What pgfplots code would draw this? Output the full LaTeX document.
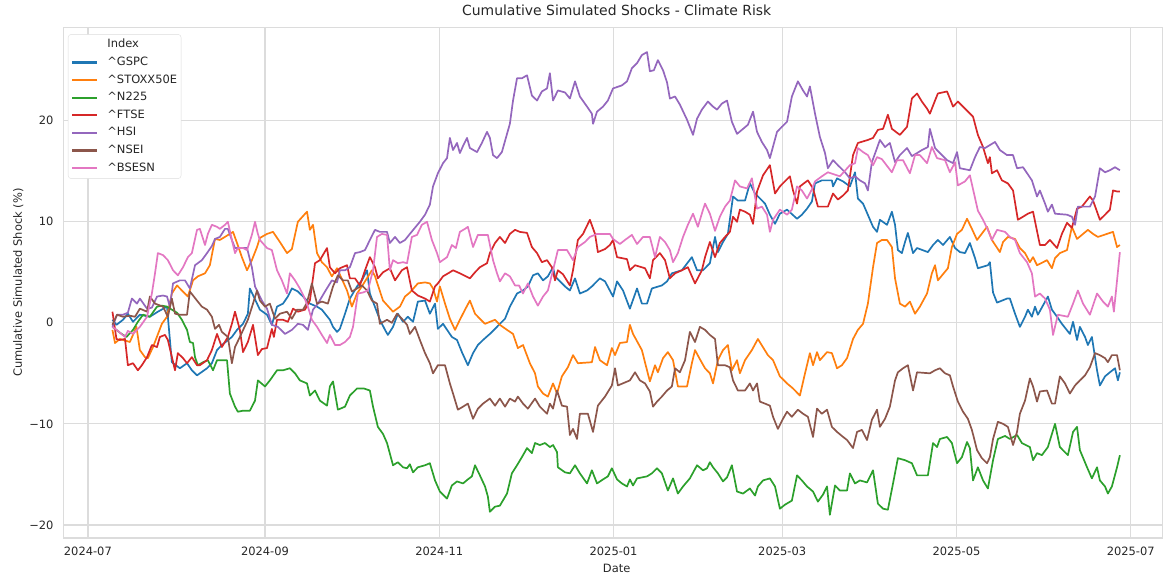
\documentclass[border=0pt]{standalone}
\usepackage{fontspec}
\setmainfont{DejaVu Sans}
\usepackage{pgfplots}
\pgfplotsset{compat=1.18}
\definecolor{cGSPC}{HTML}{1F77B4}
\definecolor{cSTOXX}{HTML}{FF7F0E}
\definecolor{cNKY}{HTML}{2CA02C}
\definecolor{cFTSE}{HTML}{D62728}
\definecolor{cHSI}{HTML}{9467BD}
\definecolor{cNSEI}{HTML}{8C564B}
\definecolor{cBSESN}{HTML}{E377C2}
\definecolor{gridc}{HTML}{DCDCDC}
\definecolor{txt}{HTML}{262626}
\newcommand{\lbl}{\fontsize{11.5}{13}\selectfont}

\begin{document}
\begin{tikzpicture}
\begin{axis}[
  scale only axis, width=1099.7bp, height=510.7bp,
  xmin=-8.6, xmax=376.3, ymin=-21.3, ymax=29.25,
  % x = days since 2024-07-01
  xtick={0,62,123,184,243,304,365},
  xticklabels={2024-07,2024-09,2024-11,2025-01,2025-03,2025-05,2025-07},
  ytick={-20,-10,0,10,20},
  yticklabels={−20,−10,0,10,20},
  grid=major, major grid style={draw=gridc, line width=1.3bp},
  axis line style={draw=gridc, line width=1.3bp},
  major tick length=0pt,
  tick label style={font=\lbl, text=txt},
  xticklabel style={anchor=base, yshift=-17bp},
  yticklabel style={anchor=east, xshift=-6.3bp},
  title={Cumulative Simulated Shocks - Climate Risk},
  title style={at={(0.5,1)}, anchor=base, yshift=6.3bp, xshift=3.5bp, font=\fontsize{14}{16}\selectfont, text=txt},
  xlabel={Date},
  xlabel style={at={(axis description cs:0.5,0)}, anchor=base, yshift=-34bp, xshift=3.5bp, font=\lbl, text=txt},
  ylabel={Cumulative Simulated Shock (\%)},
  ylabel style={at={(axis description cs:-0.041,0.5)}, anchor=center, font=\lbl, text=txt},
  no markers,
  every axis plot/.append style={line width=1.7bp, line join=round},
  legend cell align=left,
  legend image code/.code={\draw[#1] (0bp,0bp) -- (25bp,0bp);},
  legend style={at={(0,1)}, anchor=north west, xshift=4.7bp, yshift=-6.9bp,
    draw=gridc, fill=white, draw opacity=1, text opacity=1, rounded corners=3bp,
    font=\lbl, text=txt, inner xsep=3bp, inner ysep=4bp, row sep=4.6bp,
    /tikz/column sep=8bp,
    nodes={inner sep=1bp, text height=8.5bp, text depth=2.5bp}},
]
% legend: title row, then one line sample per index
\addlegendimage{empty legend}
\addlegendentry{Index}
\addlegendimage{draw=cGSPC, line width=2.2bp}
\addlegendentry{\textasciicircum GSPC}
\addlegendimage{draw=cSTOXX, line width=2.2bp}
\addlegendentry{\textasciicircum STOXX50E}
\addlegendimage{draw=cNKY, line width=2.2bp}
\addlegendentry{\textasciicircum N225}
\addlegendimage{draw=cFTSE, line width=2.2bp}
\addlegendentry{\textasciicircum FTSE}
\addlegendimage{draw=cHSI, line width=2.2bp}
\addlegendentry{\textasciicircum HSI}
\addlegendimage{draw=cNSEI, line width=2.2bp}
\addlegendentry{\textasciicircum NSEI}
\addlegendimage{draw=cBSESN, line width=2.2bp}
\addlegendentry{\textasciicircum BSESN}

\addplot[color=cGSPC, forget plot] coordinates {
(8.6,0.3) (10.0,-0.2) (12.3,0.3) (14.0,0.9) (15.8,0.1) (18.2,0.8) (21.7,0.6) (24.5,1.1)
(27.7,1.6) (28.0,0.6) (29.4,-3.9) (32.2,-4.5) (34.7,-4.0) (36.4,-4.7) (38.2,-5.2) (41.7,-4.5)
(43.4,-4.0) (45.2,-2.7) (46.9,-2.2) (50.4,-1.4) (52.2,-0.7) (54.3,-0.1) (56.0,0.9) (56.7,3.4)
(60.2,1.3) (62.7,0.8) (64.4,-0.2) (66.2,1.6) (68.3,1.9) (70.0,2.6) (71.4,3.4) (73.5,3.1)
(75.3,2.6) (77.7,1.9) (80.2,1.6) (81.9,1.3) (84.7,0.3) (85.8,-0.4) (87.2,-0.9) (88.2,-0.6)
(90.0,0.9) (91.7,2.4) (94.2,3.6) (95.9,4.2) (97.7,5.2) (98.7,2.9) (102.2,0.3) (104.0,-0.7)
(105.0,-1.2) (106.8,-0.4) (108.5,0.9) (110.3,0.1) (112.0,0.6) (113.8,0.1) (115.5,2.1) (118.0,2.2)
(119.7,0.9) (121.5,1.9) (122.5,-0.6) (124.3,-0.1) (127.4,-1.4) (129.2,-1.7) (130.9,-2.9) (133.0,-4.2)
(134.8,-3.0) (136.5,-2.2) (138.3,-1.7) (140.7,-1.1) (142.5,-0.6) (144.2,-0.1) (146.0,0.4) (147.7,1.6)
(150.2,2.9) (152.3,3.2) (154.0,3.6) (155.8,4.7) (157.5,4.9) (159.3,4.2) (161.0,4.6) (162.8,5.5)
(163.5,4.6) (167.0,3.6) (168.7,3.2) (170.5,4.4) (172.2,2.9) (174.7,3.2) (176.4,3.6) (179.2,4.4)
(181.0,4.1) (183.8,2.6) (185.2,4.1) (187.3,3.2) (189.7,1.4) (192.2,3.4) (193.9,1.9) (195.7,1.9)
(197.4,3.4) (200.9,3.7) (202.7,4.1) (204.4,4.9) (207.9,5.2) (211.4,6.5) (213.2,5.2) (215.3,5.2)
(217.7,5.9) (219.5,8.5) (220.5,7.0) (222.3,8.0) (224.0,8.8) (225.8,12.5) (227.5,12.1) (230.0,12.1)
(231.7,13.8) (233.5,12.8) (237.0,11.8) (238.7,10.7) (240.5,9.8) (242.2,10.8) (244.7,11.2) (248.2,10.3)
(249.9,10.7) (251.7,11.3) (253.4,12.0) (254.5,13.8) (256.9,14.1) (260.4,14.1) (260.8,13.5) (262.2,14.3)
(264.3,14.0) (266.7,13.5) (268.5,14.9) (269.5,12.3) (271.3,11.8) (274.8,9.5) (276.2,9.0) (277.2,10.2)
(279.7,9.7) (281.4,11.0) (282.5,9.7) (283.5,7.2) (284.9,6.9) (286.0,8.0) (287.0,8.9) (288.8,6.9)
(290.2,7.4) (294.0,7.0) (295.8,7.7) (297.5,8.2) (299.3,7.7) (301.7,8.5) (303.5,7.4) (305.2,7.0)
(307.0,6.9) (308.7,7.9) (310.5,6.4) (311.5,5.4) (315.0,5.7) (315.7,6.0) (316.8,3.0) (318.2,2.0)
(321.7,2.4) (322.7,2.4) (324.5,0.9) (326.2,-0.4) (328.0,0.6) (329.0,1.3) (330.4,0.6) (331.5,1.6)
(332.5,0.8) (336.0,2.6) (337.4,1.3) (339.2,0.6) (340.9,-0.1) (343.7,-1.1) (344.8,0.1) (346.2,-1.7)
(347.2,-0.4) (349.0,-1.4) (350.0,-2.2) (351.4,-1.4) (353.2,-4.7) (354.2,-6.2) (356.0,-5.3) (357.7,-4.9)
(359.5,-4.5) (360.5,-5.7) (361.2,-4.9)
};

\addplot[color=cSTOXX, forget plot] coordinates {
(8.6,-0.7) (9.5,-2.0) (11.2,-1.6) (14.7,-1.9) (17.0,-0.4) (18.2,-2.7) (20.0,-3.4) (21.0,-3.5)
(22.8,-2.4) (25.9,-0.1) (27.7,0.6) (29.4,2.9) (31.2,3.7) (32.9,3.2) (35.0,2.6) (36.8,4.2)
(38.5,4.6) (41.0,4.9) (42.7,5.7) (44.5,8.3) (46.2,8.2) (49.7,8.8) (50.8,9.0) (52.2,7.9)
(53.9,6.5) (55.7,5.2) (57.4,6.2) (59.2,7.5) (60.2,8.4) (62.7,8.8) (64.8,9.0) (67.2,8.0)
(69.7,6.9) (71.4,7.3) (73.5,10.0) (76.7,11.0) (77.7,9.2) (78.8,9.7) (80.2,6.9) (81.9,6.0)
(83.7,5.5) (85.4,4.6) (87.2,5.4) (90.7,3.2) (92.4,1.6) (94.2,2.9) (95.9,3.6) (99.4,5.2)
(100.5,4.6) (103.3,2.2) (106.8,1.1) (109.2,1.6) (111.0,2.6) (112.7,3.0) (115.5,3.9) (118.0,4.0)
(119.7,3.9) (120.8,3.4) (122.2,2.1) (123.2,3.6) (125.0,1.9) (126.7,0.4) (128.5,-0.7) (130.2,0.3)
(132.0,1.3) (133.7,2.2) (135.5,0.9) (137.2,0.4) (139.0,-0.1) (142.5,0.3) (144.2,-0.2) (146.7,-0.7)
(148.8,-1.1) (150.5,-2.5) (152.3,-2.2) (154.7,-4.0) (156.5,-5.0) (157.5,-6.3) (159.3,-7.0) (161.0,-7.3)
(162.8,-6.0) (164.2,-7.0) (165.9,-5.3) (168.0,-4.4) (169.8,-3.2) (171.5,-4.0) (176.4,-3.9) (177.5,-2.4)
(179.2,-3.7) (181.7,-4.2) (183.4,-2.5) (184.5,-3.2) (186.2,-2.0) (188.7,-1.9) (189.7,-0.2) (190.8,-1.1)
(193.9,-2.7) (195.7,-4.7) (196.7,-5.8) (198.5,-4.2) (199.5,-4.9) (201.3,-3.5) (203.0,-2.9) (204.8,-3.7)
(206.5,-6.3) (209.7,-6.3) (211.4,-4.0) (212.5,-2.7) (214.2,-3.6) (216.0,-4.5) (217.7,-5.0) (218.8,-6.0)
(220.5,-3.7) (222.3,-2.7) (224.0,-2.2) (225.4,-4.7) (227.2,-3.7) (228.2,-5.0) (230.0,-3.7) (232.4,-2.7)
(234.5,-1.6) (238.0,-3.2) (239.8,-3.7) (242.2,-5.3) (244.7,-6.0) (246.8,-6.5) (249.2,-7.2) (251.0,-5.0)
(252.7,-3.0) (253.8,-4.2) (255.2,-2.9) (256.2,-3.7) (258.7,-2.9) (260.4,-3.0) (262.2,-4.5) (263.9,-4.2)
(265.7,-3.5) (267.8,-1.6) (269.5,-0.7) (271.3,-0.1) (273.0,1.9) (274.8,5.5) (276.2,7.9) (277.9,8.2)
(279.7,8.2) (281.4,7.5) (282.5,4.4) (284.2,1.9) (286.0,1.6) (287.7,2.1) (289.5,0.9) (291.2,1.6)
(293.7,2.9) (295.4,4.9) (296.5,5.7) (297.5,4.2) (301.0,5.4) (302.4,7.5) (304.2,8.8) (305.9,9.2)
(307.7,10.3) (309.4,9.3) (311.2,8.2) (314.7,9.5) (316.4,8.2) (319.2,7.0) (320.3,8.0) (322.0,8.5)
(324.5,8.3) (326.2,7.4) (328.0,6.9) (329.7,6.0) (330.8,6.5) (332.2,5.7) (335.7,6.2) (337.4,5.4)
(338.5,6.4) (340.2,6.9) (342.7,7.2) (344.4,9.5) (346.2,8.3) (350.0,9.2) (351.8,8.8) (353.5,8.5)
(358.8,9.0) (360.2,7.5) (361.2,7.7)
};

\addplot[color=cNKY, forget plot] coordinates {
(8.6,-0.4) (11.8,-1.1) (13.5,-1.4) (15.8,-0.7) (17.5,0.1) (19.3,0.8) (21.7,0.6) (24.2,1.6)
(25.9,1.7) (27.7,1.6) (29.4,1.3) (31.2,1.0) (32.9,0.3) (34.7,-0.7) (35.7,-1.9) (36.8,-2.0)
(37.5,-3.4) (38.5,-4.2) (40.3,-3.9) (42.0,-3.7) (43.8,-4.7) (45.2,-3.7) (48.7,-3.7) (49.7,-7.0)
(51.5,-8.3) (52.5,-8.8) (54.3,-8.7) (56.7,-8.7) (58.5,-7.7) (59.5,-5.7) (62.0,-6.3) (63.7,-5.7)
(66.2,-4.7) (68.3,-4.7) (70.7,-4.5) (72.5,-5.0) (74.2,-5.7) (76.7,-6.0) (77.7,-7.2) (79.5,-6.7)
(81.2,-7.7) (83.7,-8.2) (84.7,-6.3) (85.8,-5.8) (87.5,-8.6) (90.0,-8.3) (91.7,-7.2) (94.2,-6.5)
(96.6,-6.5) (98.7,-6.7) (99.8,-8.3) (101.5,-10.3) (103.3,-11.0) (104.7,-11.9) (106.8,-14.1) (108.5,-13.8)
(110.3,-14.3) (111.7,-14.4) (112.7,-14.0) (113.8,-14.8) (115.5,-14.3) (118.0,-14.1) (119.7,-13.9) (121.5,-15.6)
(123.2,-16.7) (125.7,-17.4) (127.4,-16.1) (129.2,-15.7) (131.3,-15.9) (133.0,-15.5) (134.4,-15.2) (135.5,-14.1)
(137.2,-15.1) (139.0,-16.2) (140.0,-17.2) (140.7,-18.7) (142.5,-18.2) (144.2,-18.1) (146.7,-16.9) (148.4,-14.9)
(150.2,-14.1) (151.9,-13.3) (153.7,-12.4) (155.4,-12.9) (156.5,-11.9) (158.2,-12.1) (160.0,-11.9) (161.7,-12.3)
(162.8,-12.1) (164.2,-12.8) (164.5,-14.3) (167.0,-14.8) (168.7,-14.9) (170.5,-14.1) (172.2,-14.9) (174.7,-15.9)
(176.4,-14.6) (178.2,-15.9) (180.3,-15.5) (182.0,-15.2) (183.4,-14.4) (185.2,-15.5) (186.9,-15.9) (188.7,-16.2)
(189.7,-15.5) (190.8,-16.1) (192.2,-15.4) (195.7,-15.2) (197.4,-14.9) (199.2,-14.4) (200.9,-14.9) (203.0,-16.6)
(204.8,-15.4) (206.5,-16.9) (208.3,-16.2) (210.7,-15.4) (213.2,-14.1) (215.3,-14.6) (216.7,-14.4) (217.7,-13.8)
(218.8,-14.3) (220.5,-14.9) (222.3,-15.7) (223.7,-15.3) (225.4,-14.1) (227.2,-16.7) (229.3,-16.9) (231.7,-16.4)
(233.5,-17.1) (234.5,-16.2) (236.3,-15.6) (238.7,-15.4) (240.5,-16.2) (242.2,-18.4) (244.0,-18.0) (246.4,-17.6)
(248.2,-15.1) (249.9,-15.6) (251.7,-16.2) (253.8,-16.7) (255.5,-17.7) (257.3,-17.0) (258.7,-16.2) (259.7,-19.0)
(261.5,-16.1) (263.2,-16.6) (265.7,-16.6) (266.7,-14.9) (268.5,-15.9) (270.2,-15.6) (272.7,-15.8) (274.8,-14.6)
(276.5,-17.9) (278.3,-18.4) (280.0,-18.5) (281.8,-15.9) (283.5,-13.4) (286.0,-13.6) (288.4,-13.9) (290.2,-15.1)
(294.0,-15.1) (295.8,-11.9) (297.2,-12.3) (298.2,-11.5) (300.7,-11.3) (302.4,-11.9) (304.2,-13.9) (305.9,-13.3)
(307.7,-11.8) (308.7,-12.4) (309.8,-15.6) (311.5,-14.3) (313.3,-15.6) (315.0,-16.4) (316.8,-13.6) (318.5,-11.5)
(321.0,-11.2) (322.7,-11.5) (325.2,-11.1) (326.9,-11.9) (329.7,-12.3) (330.8,-13.6) (332.2,-12.9) (333.9,-13.1)
(336.0,-12.3) (338.5,-10.0) (340.2,-12.3) (343.0,-13.1) (344.8,-10.8) (346.2,-10.3) (347.2,-12.6) (349.7,-14.3)
(351.4,-15.4) (353.2,-14.3) (354.2,-15.6) (356.0,-16.2) (357.0,-16.9) (358.4,-16.2) (360.2,-14.3) (361.2,-13.1)
};

\addplot[color=cFTSE, forget plot] coordinates {
(8.6,1.1) (10.0,-1.6) (11.2,-1.7) (13.0,-1.6) (14.0,-4.2) (15.8,-4.0) (17.5,-4.7) (18.9,-4.2)
(20.7,-3.4) (22.4,-2.2) (24.2,-2.4) (25.2,-1.4) (27.0,-1.2) (28.0,-1.7) (30.5,-4.7) (31.5,-3.0)
(33.3,-3.5) (34.7,-4.0) (36.4,-3.4) (38.2,-4.2) (39.2,-4.2) (41.7,-3.7) (43.4,-2.7) (45.2,-1.1)
(46.9,-2.4) (49.0,-1.4) (50.4,-0.1) (51.5,1.1) (53.2,-0.7) (54.3,-2.9) (56.0,-1.9) (57.8,-0.2)
(59.5,-3.2) (60.9,-2.6) (62.7,-2.5) (64.4,-0.6) (65.1,-1.4) (66.2,0.3) (68.3,0.3) (70.0,0.1)
(71.8,1.4) (73.5,1.1) (76.0,1.3) (77.7,2.2) (79.5,5.9) (81.2,6.2) (83.7,7.4) (84.7,5.5)
(86.5,4.9) (88.2,5.4) (90.7,5.7) (91.7,4.4) (93.5,4.4) (95.2,3.7) (97.0,5.2) (98.7,6.5)
(100.5,5.5) (101.5,4.4) (103.3,5.0) (105.7,5.4) (107.5,4.2) (109.9,5.2) (111.7,5.5) (113.4,3.2)
(115.5,2.7) (118.0,2.4) (119.7,2.1) (121.5,3.6) (122.5,3.9) (124.3,4.6) (126.7,5.0) (127.8,5.2)
(130.2,4.9) (133.7,4.4) (135.5,5.0) (137.2,5.5) (139.7,5.9) (140.7,6.9) (142.5,7.9) (144.2,8.5)
(146.0,7.9) (147.7,8.8) (149.5,9.2) (151.2,9.0) (153.7,8.9) (155.4,7.5) (157.2,6.9) (158.9,6.0)
(160.7,6.2) (162.4,5.5) (163.5,4.2) (164.5,5.2) (166.3,4.8) (168.7,3.7) (169.8,5.2) (171.5,8.2)
(173.3,8.8) (175.7,10.2) (177.5,8.8) (178.5,7.0) (181.0,7.3) (182.7,7.7) (183.8,8.2) (185.2,6.5)
(188.7,6.3) (189.7,5.2) (191.5,5.7) (195.0,5.4) (196.7,4.4) (197.8,6.2) (200.2,6.9) (202.0,6.2)
(203.7,4.4) (205.5,4.9) (207.9,5.2) (210.0,5.5) (212.5,3.9) (214.9,5.2) (216.0,6.5) (217.7,8.0)
(219.5,6.5) (221.2,7.9) (223.0,8.5) (224.7,9.0) (225.8,10.5) (227.2,10.0) (228.2,11.2) (230.0,11.0)
(231.7,10.7) (232.8,9.8) (234.2,13.0) (236.3,14.6) (238.7,15.6) (240.5,12.8) (242.2,13.5) (245.7,14.5)
(246.8,13.1) (248.2,11.8) (249.2,13.5) (252.0,14.1) (253.8,13.3) (255.5,11.5) (259.0,11.5) (260.8,12.8)
(262.5,12.2) (264.3,12.6) (266.0,13.1) (267.8,16.6) (269.5,17.8) (273.0,18.1) (274.8,18.3) (276.5,19.1)
(278.3,19.2) (280.0,20.6) (281.4,19.2) (284.2,18.6) (286.7,19.4) (288.4,22.2) (290.2,22.7) (291.9,21.9)
(293.7,21.2) (294.7,20.7) (296.5,22.0) (297.5,22.7) (300.7,22.9) (301.7,22.2) (302.8,21.4) (304.5,21.9)
(307.0,21.2) (309.8,20.4) (311.5,18.6) (313.3,17.4) (315.0,15.8) (315.7,16.4) (316.4,14.8) (318.2,15.1)
(319.9,14.1) (322.0,13.8) (323.8,13.1) (325.5,10.2) (327.3,10.5) (329.0,10.8) (330.8,11.0) (333.2,7.7)
(335.0,7.7) (336.7,8.2) (339.2,7.4) (340.9,8.8) (342.7,9.9) (344.4,9.4) (346.2,11.3) (347.9,11.5)
(350.7,12.5) (351.8,12.1) (354.2,10.2) (356.0,10.7) (357.7,11.2) (358.8,13.1) (360.2,13.0) (361.2,13.0)
};

\addplot[color=cHSI, forget plot] coordinates {
(8.6,-0.4) (10.2,0.8) (12.3,0.8) (14.0,1.0) (15.4,2.4) (17.2,1.9) (18.2,2.4) (20.7,1.4)
(22.4,1.5) (24.2,2.6) (26.3,2.7) (27.7,2.6) (28.7,1.6) (29.8,3.9) (32.2,4.2) (34.0,4.2)
(35.7,3.4) (37.5,5.7) (39.9,6.2) (41.7,6.9) (43.4,7.6) (44.5,8.3) (46.2,8.5) (48.0,9.3)
(49.0,9.3) (50.4,8.2) (51.5,7.4) (55.7,7.4) (57.4,5.5) (58.5,3.6) (60.9,2.2) (62.7,1.4)
(64.4,-0.2) (66.5,-0.4) (69.0,-1.1) (71.4,-0.7) (73.5,-0.1) (75.3,-0.2) (77.0,-0.7) (78.8,1.3)
(80.5,1.9) (83.0,3.1) (85.4,4.2) (87.2,4.0) (88.2,5.2) (90.0,5.2) (91.7,5.5) (93.5,6.9)
(95.2,7.0) (97.0,7.2) (98.7,8.2) (100.5,9.2) (102.2,9.0) (104.7,9.0) (105.7,7.9) (107.5,8.5)
(109.2,7.9) (111.0,8.2) (112.7,8.8) (116.2,10.0) (118.0,10.7) (119.7,11.7) (120.8,13.5) (122.5,14.8)
(124.3,15.8) (125.7,16.3) (126.7,18.3) (127.8,17.1) (129.2,17.8) (130.2,16.8) (131.3,17.5) (132.7,18.3)
(133.7,17.3) (136.2,16.9) (137.9,17.8) (139.7,18.9) (140.7,18.3) (141.8,16.6) (143.2,16.3) (144.9,16.9)
(146.7,18.7) (147.7,19.7) (148.8,22.0) (150.2,24.2) (151.9,24.2) (153.7,24.5) (155.4,22.5) (157.2,22.0)
(158.9,22.9) (160.7,23.2) (161.7,24.7) (162.8,22.0) (164.5,23.0) (167.0,22.8) (168.7,22.2) (170.5,23.9)
(172.2,22.4) (174.7,21.4) (176.4,20.7) (176.8,19.7) (178.2,20.9) (180.3,21.4) (182.0,22.0) (183.8,23.2)
(186.9,23.5) (188.7,23.9) (190.4,25.2) (192.2,25.7) (193.9,26.5) (195.7,26.8) (196.7,24.9) (198.1,25.0)
(199.5,26.0) (201.3,25.0) (202.7,23.8) (203.7,22.2) (205.5,22.4) (207.2,21.6) (209.7,20.1) (211.8,18.6)
(213.2,20.2) (214.9,21.1) (217.0,21.9) (218.8,21.4) (220.2,21.1) (221.9,21.7) (223.7,22.0) (225.4,19.9)
(227.2,18.7) (228.9,19.1) (231.0,19.6) (232.8,20.9) (234.2,18.9) (235.9,17.9) (237.7,17.1) (238.7,16.3)
(241.2,18.9) (242.9,19.4) (244.7,19.9) (246.4,22.4) (248.5,23.9) (250.3,23.0) (251.7,22.4) (252.7,23.4)
(254.5,20.7) (256.2,18.4) (258.0,16.8) (259.0,15.3) (260.8,16.1) (262.5,15.6) (265.0,14.9) (266.7,14.3)
(268.5,14.5) (270.2,14.1) (272.0,13.8) (273.0,13.1) (274.4,15.9) (276.2,17.3) (277.2,18.1) (279.0,17.4)
(280.7,17.8) (282.5,15.9) (284.2,16.6) (286.7,17.3) (288.4,16.5) (290.2,16.8) (291.9,17.1) (294.0,17.4)
(294.7,19.2) (296.5,17.3) (298.2,16.8) (300.7,16.1) (302.8,15.8) (304.2,16.9) (305.2,15.3) (308.7,15.1)
(310.5,16.4) (312.2,17.4) (314.0,17.3) (317.5,17.9) (319.2,17.1) (321.7,16.6) (323.8,16.6) (325.2,15.3)
(327.3,15.4) (330.4,14.1) (332.2,12.5) (333.2,13.1) (335.0,11.8) (336.0,11.0) (337.4,11.7) (338.5,10.8)
(342.7,10.7) (344.4,10.5) (345.5,9.7) (346.5,11.5) (350.7,11.5) (352.5,12.5) (354.2,15.3) (356.0,14.9)
(357.7,15.1) (359.5,15.4) (361.2,15.1)
};

\addplot[color=cNSEI, forget plot] coordinates {
(8.6,-0.2) (10.2,0.8) (12.3,0.6) (14.7,0.7) (16.5,0.6) (18.2,1.4) (20.7,1.1) (21.7,2.6)
(23.5,1.9) (26.3,1.6) (28.0,0.6) (29.4,2.4) (30.5,0.9) (32.2,0.8) (34.7,0.8) (35.7,3.1)
(38.2,2.2) (39.9,1.6) (41.7,1.3) (43.4,0.6) (44.5,-0.6) (45.9,-0.2) (46.9,-0.9) (49.0,-1.4)
(50.4,-4.0) (51.5,-2.4) (53.2,-1.4) (56.0,0.3) (57.8,1.9) (59.2,3.2) (60.2,2.2) (62.0,1.6)
(63.7,1.9) (65.5,0.4) (67.2,0.9) (69.7,1.1) (71.4,0.4) (73.2,1.3) (75.3,1.3) (76.7,2.0)
(78.4,3.9) (80.2,1.9) (81.9,2.1) (84.0,1.9) (85.8,3.6) (87.5,4.7) (89.3,4.2) (91.0,4.2)
(92.4,3.1) (94.2,3.4) (95.9,3.7) (97.7,3.2) (99.4,2.2) (101.2,1.9) (102.2,-0.1) (104.7,0.3)
(106.4,0.0) (108.2,0.9) (109.9,0.4) (111.7,-0.2) (112.7,-1.1) (114.5,-0.4) (116.2,-1.7) (118.0,-3.0)
(119.7,-4.0) (120.8,-5.0) (122.5,-4.2) (125.0,-4.2) (126.7,-6.0) (127.8,-7.0) (129.5,-8.6) (131.3,-8.3)
(133.0,-8.0) (134.8,-9.5) (136.5,-8.5) (138.3,-8.0) (140.7,-7.5) (142.5,-8.2) (144.2,-7.5) (146.0,-8.3)
(147.7,-7.5) (149.5,-7.8) (150.5,-7.3) (152.3,-8.0) (154.0,-8.5) (156.5,-7.5) (158.2,-8.3) (160.7,-9.0)
(161.7,-8.0) (162.8,-8.5) (164.2,-6.7) (165.9,-8.2) (167.7,-8.3) (168.7,-11.1) (169.8,-10.5) (171.2,-11.5)
(172.2,-9.0) (175.0,-9.0) (176.8,-10.8) (178.5,-8.2) (181.0,-7.3) (183.4,-6.2) (184.5,-4.5) (185.5,-6.2)
(189.7,-5.7) (191.5,-4.9) (193.2,-5.7) (195.0,-6.0) (196.7,-6.8) (197.8,-8.3) (199.2,-7.8) (200.9,-7.3)
(202.7,-6.7) (204.4,-6.3) (205.5,-4.5) (207.2,-4.9) (209.0,-3.7) (210.7,-0.9) (212.5,-1.9) (214.2,-0.4)
(216.0,-0.7) (217.7,-1.2) (219.5,-1.6) (220.5,-4.2) (223.0,-4.2) (224.7,-4.4) (225.8,-5.7) (227.5,-6.7)
(230.0,-6.7) (231.7,-6.0) (232.8,-6.7) (234.2,-6.0) (235.2,-7.8) (237.0,-8.0) (238.7,-8.2) (239.8,-9.3)
(241.5,-10.5) (243.3,-9.5) (244.7,-8.8) (246.4,-9.3) (248.5,-8.6) (250.3,-9.0) (252.0,-9.3) (253.8,-11.3)
(255.2,-8.5) (256.9,-9.0) (258.7,-8.6) (260.4,-10.3) (262.2,-10.8) (263.9,-11.2) (265.7,-11.6) (267.8,-12.4)
(269.2,-10.8) (270.9,-10.6) (272.7,-11.6) (274.4,-9.6) (276.2,-8.6) (277.2,-10.3) (279.0,-9.5) (280.7,-8.3)
(282.5,-5.7) (283.5,-4.9) (285.3,-4.5) (287.0,-4.2) (288.8,-6.7) (290.2,-4.9) (294.7,-5.0) (296.5,-4.7)
(298.2,-4.5) (300.0,-5.0) (301.7,-5.2) (302.8,-6.3) (304.5,-7.8) (306.3,-8.8) (308.0,-9.5) (309.4,-10.6)
(311.2,-12.6) (312.9,-13.4) (314.7,-13.9) (315.7,-13.3) (316.8,-11.5) (318.5,-9.8) (320.3,-10.0) (322.0,-10.3)
(323.8,-12.1) (325.2,-10.8) (326.2,-9.0) (328.0,-7.7) (329.7,-5.5) (330.8,-6.3) (332.2,-7.8) (333.2,-6.8)
(335.7,-6.7) (337.4,-8.0) (338.5,-8.0) (340.2,-5.3) (342.0,-6.0) (343.7,-7.0) (345.5,-6.2) (347.2,-5.7)
(349.0,-5.2) (350.7,-4.4) (352.5,-3.0) (354.2,-3.2) (356.0,-3.5) (357.0,-3.9) (358.4,-3.2) (360.2,-3.2)
(361.2,-4.7)
};

\addplot[color=cBSESN, forget plot] coordinates {
(8.6,-0.4) (10.5,-0.8) (13.0,-1.4) (14.0,-0.8) (15.8,-1.1) (18.2,-0.4) (20.7,0.6) (22.4,2.9)
(23.5,4.9) (24.5,6.9) (26.3,6.7) (28.0,6.2) (29.8,5.2) (31.5,4.7) (33.3,5.5) (35.0,6.5)
(36.4,6.9) (38.2,9.2) (39.2,9.3) (41.0,7.7) (42.0,8.8) (43.4,9.7) (45.2,9.5) (46.2,9.3)
(48.0,9.7) (49.0,10.0) (50.4,8.2) (51.5,6.9) (52.5,7.4) (54.3,7.4) (55.7,7.2) (57.4,8.7)
(58.5,10.0) (59.5,8.8) (60.2,8.2) (62.7,7.4) (64.4,7.2) (66.2,5.2) (67.9,4.2) (69.7,2.9)
(70.7,4.9) (72.5,4.2) (74.2,3.4) (75.6,2.6) (77.0,1.6) (78.4,0.3) (80.2,-0.4) (81.9,-1.2)
(83.7,-2.0) (84.7,-1.2) (86.5,-2.2) (88.2,-2.2) (90.0,-1.9) (91.7,-1.4) (92.8,-0.4) (94.5,2.9)
(96.3,3.0) (98.0,3.2) (99.8,5.2) (101.2,8.5) (102.9,8.8) (104.7,8.7) (105.7,5.2) (106.8,6.2)
(108.5,5.9) (110.3,6.0) (111.7,5.9) (113.4,8.5) (115.2,8.7) (116.9,9.7) (118.7,10.0) (120.4,8.2)
(122.2,6.9) (123.2,6.0) (125.7,6.5) (127.4,7.7) (128.8,7.4) (130.2,9.0) (132.0,9.3) (133.0,9.5)
(134.8,7.5) (136.5,8.7) (140.0,8.7) (141.8,6.2) (143.2,4.9) (144.2,4.1) (146.0,4.9) (147.7,4.6)
(149.5,3.7) (150.9,3.7) (152.3,2.9) (154.0,3.9) (155.8,2.6) (157.5,1.7) (159.3,2.6) (161.0,3.2)
(162.8,5.2) (164.5,7.2) (167.7,7.2) (169.8,6.2) (171.5,7.5) (174.0,8.0) (175.7,8.5) (178.2,8.8)
(180.3,8.8) (182.7,8.8) (183.8,8.3) (186.2,7.8) (188.0,8.2) (190.4,8.7) (192.2,7.8) (194.3,8.5)
(196.7,8.5) (198.5,6.5) (200.2,8.5) (202.0,8.0) (203.7,7.2) (204.8,6.0) (206.5,6.9) (208.3,8.5)
(210.0,9.7) (211.8,10.8) (213.5,9.5) (215.3,11.2) (216.0,11.8) (217.7,10.8) (219.5,9.1) (221.2,10.5)
(223.0,11.5) (224.7,12.1) (226.5,14.1) (228.2,13.5) (230.7,13.3) (232.4,14.3) (234.2,11.3) (235.9,11.5)
(237.7,10.7) (238.7,9.0) (239.8,10.2) (242.2,11.2) (244.7,10.7) (246.4,11.2) (248.2,13.5) (249.9,13.1)
(251.7,12.3) (253.4,13.2) (254.5,14.0) (256.9,14.5) (259.0,14.9) (263.2,14.5) (266.7,15.6) (268.5,15.8)
(269.5,17.3) (271.3,16.9) (273.0,16.6) (274.8,15.6) (276.2,16.4) (277.9,16.2) (281.4,14.9) (283.2,16.1)
(285.3,16.1) (287.7,14.8) (289.5,16.6) (291.2,16.6) (293.7,15.8) (295.4,17.4) (297.2,16.3) (300.0,16.1)
(301.7,14.9) (303.5,15.9) (304.5,13.6) (307.0,14.0) (308.7,14.6) (311.5,11.1) (313.3,10.2) (315.0,9.2)
(316.4,8.2) (318.2,9.2) (321.0,9.0) (322.7,8.5) (324.5,8.2) (326.2,6.9) (328.7,6.0) (330.4,4.9)
(331.5,2.6) (333.2,2.9) (335.0,2.4) (336.7,1.3) (337.8,-1.2) (339.5,0.8) (343.0,0.6) (344.8,1.9)
(346.5,3.2) (348.3,1.9) (350.7,0.8) (353.2,2.9) (355.3,2.1) (357.0,1.6) (358.4,2.6) (359.1,1.1)
(361.2,7.0)
};
\end{axis}
\pgfresetboundingbox
\path (-63.3bp,-36bp) rectangle (1099.7bp,538bp);
\end{tikzpicture}
\end{document}
